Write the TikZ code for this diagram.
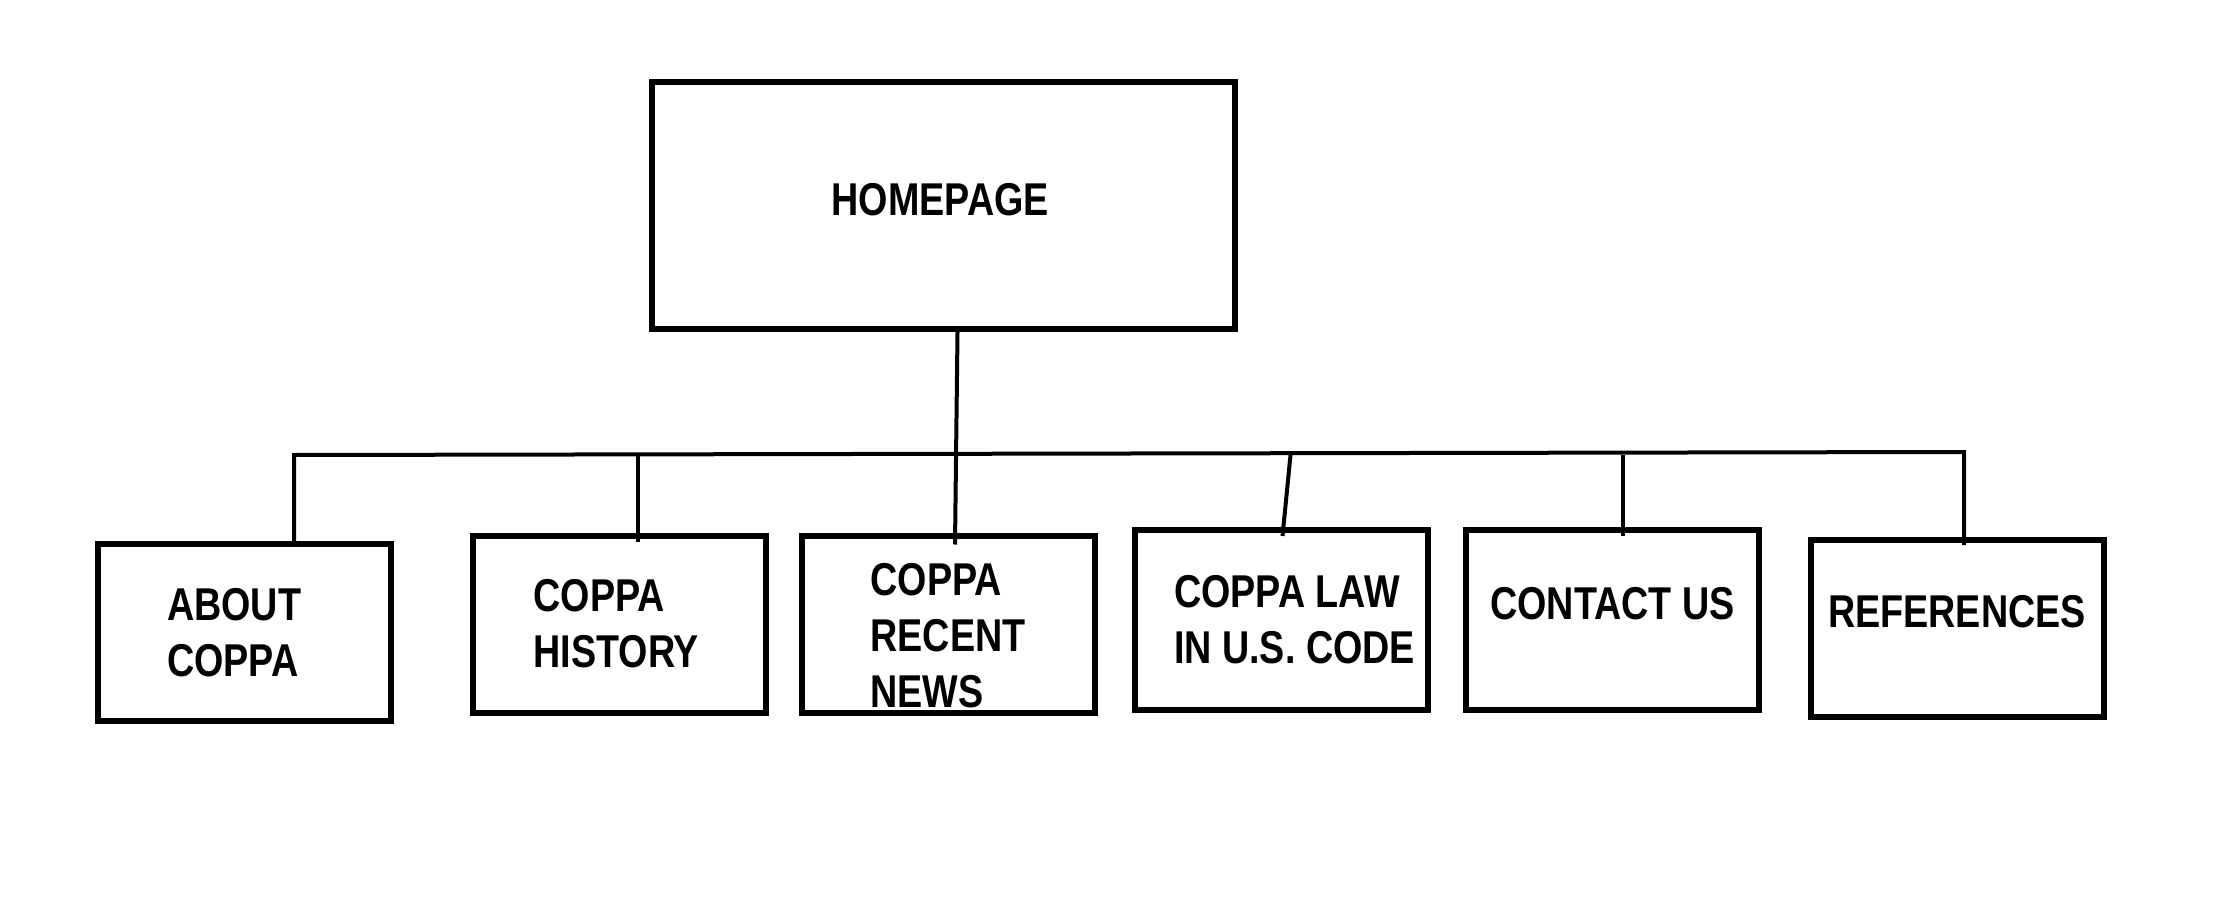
\documentclass[tikz,border=0pt]{standalone}
\usepackage{fontspec}
\setmainfont{Liberation Sans}[FakeStretch=0.82]

\begin{document}
\begin{tikzpicture}[x=1pt, y=-1pt, page/.style = {draw, rectangle, line width=6pt, minimum width=293pt, minimum height=177pt, align=left, font=\bfseries\fontsize{46}{56}\selectfont}, link/.style = {line width=4pt}]
\path[fill=white, use as bounding box] (0,0) rectangle (2218,920);

\node[page, minimum width=583pt, minimum height=247pt, text width=224pt, text depth=12pt] (0) at (943.5,205.5) {HOMEPAGE};
\node[page, text width=154pt] (1) at (244,632.5) {ABOUT\\COPPA};
\node[page, text width=171pt] (2) at (619,624) {COPPA\\HISTORY};
\node[page] (3) at (948,624) {\rule{0pt}{56pt}COPPA\\RECENT\\NEWS};
\node[page, minimum height=180pt] (4) at (1281.5,620) {\hspace*{26pt}COPPA LAW\\\hspace*{26pt}IN U.S. CODE};
\node[page, minimum height=180pt, text depth=34pt] (5) at (1612.5,620) {CONTACT US};
\node[page, text depth=34pt] (6) at (1957,628.5) {REFERENCES};

% bus line
\coordinate (bl) at (294,455);
\coordinate (br) at (1964,452);
\coordinate (d2) at ([xshift=19pt]2.north);
\coordinate (d4) at ([xshift=9pt]4.north);
\coordinate (d5) at ([xshift=10pt]5.north);

\draw[link] ([xshift=14pt]0.south) -- ([xshift=7pt,yshift=-12pt]3.north);
\draw[link] ([xshift=50pt]1.north) -- (bl) -- (br) -- ([xshift=7pt,yshift=-8pt]6.north);
\draw[link] (d2 |- bl) -- ([yshift=-9pt]d2);
\draw[link] (d4 |- bl) -- ([xshift=1pt,yshift=-9pt]4.north);
\draw[link] (d5 |- bl) -- ([yshift=-9pt]d5);

\end{tikzpicture}
\end{document}
